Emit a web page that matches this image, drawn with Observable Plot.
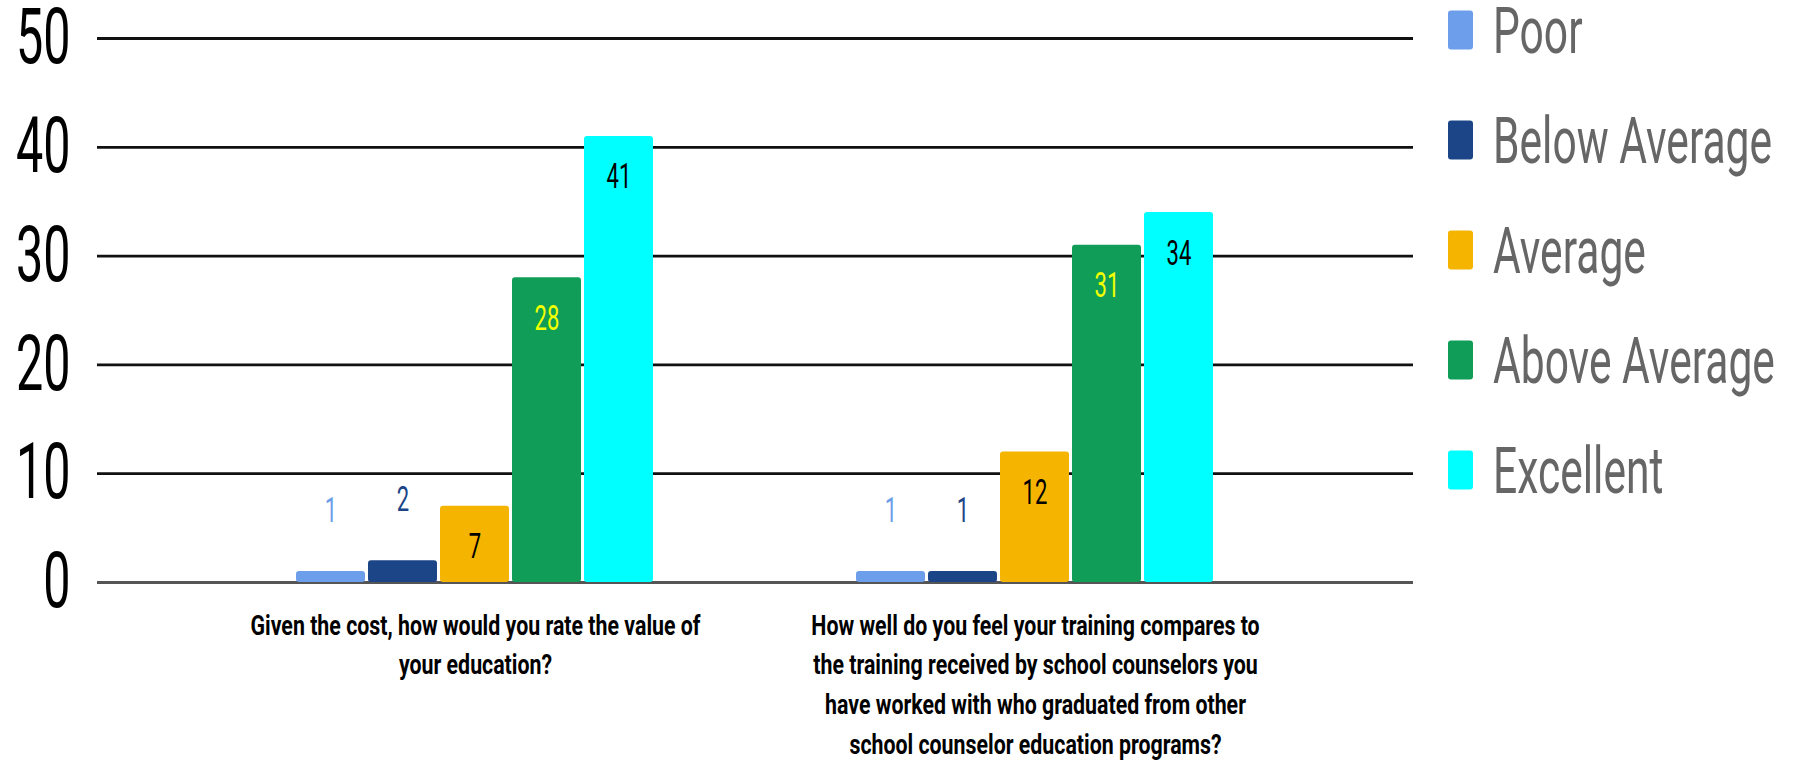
<!DOCTYPE html>
<html>
<head>
<meta charset="utf-8">
<script src="https://cdn.jsdelivr.net/npm/d3@7"></script>
<script src="https://cdn.jsdelivr.net/npm/@observablehq/plot@0.6"></script>
<style>
  html, body { margin: 0; padding: 0; background: #fff; }
  #wrap { position: relative; width: 1798px; height: 762px; overflow: hidden; font-family: Roboto, sans-serif; background: #fff; }
  #wrap svg { position: absolute; left: 0; top: 0; }
</style>
</head>
<body>
<div id="wrap"></div>
<script>
// ---- data ----
const questions = [
  "Given the cost, how would you rate the value of your education?",
  "How well do you feel your training compares to the training received by school counselors you have worked with who graduated from other school counselor education programs?"
];
const questionTickLabels = [
  "Given the cost, how would you rate the value of\nyour education?",
  "How well do you feel your training compares to\nthe training received by school counselors you\nhave worked with who graduated from other\nschool counselor education programs?"
];
const ratings = ["Poor", "Below Average", "Average", "Above Average", "Excellent"];
const valuesQ1 = [1, 2, 7, 28, 41];
const valuesQ2 = [1, 1, 12, 31, 34];
const yTicks = [0, 10, 20, 30, 40, 50];
const colors = ["#6d9eeb", "#1c4587", "#f4b400", "#0f9d58", "#00ffff"];

const data = [];
[valuesQ1, valuesQ2].forEach((vals, qi) =>
  vals.forEach((v, ri) => data.push({question: questions[qi], rating: ratings[ri], value: v}))
);

const W = 1798, H = 762;
const tickLabelOf = q => questionTickLabels[questions.indexOf(q)];
const inside = d => d.value >= 5;

const frame = {
  width: W, height: H,
  marginLeft: 97, marginRight: 385, marginTop: 38, marginBottom: 180,
  style: {fontFamily: "Roboto, sans-serif", background: "transparent", overflow: "visible"}
};

// background: gridlines and y tick labels across the full frame
const grid = Plot.plot({
  ...frame,
  y: {domain: [0, 50], axis: null, label: null},
  marks: [
    Plot.ruleY(yTicks.filter(t => t > 0), {stroke: "#111", strokeWidth: 2.8}),
    Plot.ruleY([0], {stroke: "#555", strokeWidth: 3}),
    Plot.text(yTicks, {y: d => d, text: d => String(d), frameAnchor: "left", dx: -27,
      textAnchor: "end", lineAnchor: "middle", fontSize: 77, fill: "#000"})
  ]
});

// foreground: grouped bars, value labels and category labels
const bars = Plot.plot({
  ...frame,
  fx: {domain: questions, range: [294, 1216], paddingInner: 0.354, paddingOuter: 0, axis: null, label: null},
  x: {domain: ratings, paddingInner: 0.04, paddingOuter: 0, axis: null, label: null},
  y: {domain: [0, 50], axis: null, label: null},
  color: {domain: ratings, range: colors},
  marks: [
    Plot.barY(data, {fx: "question", x: "rating", y: "value", fill: "rating", rx: 3}),
    Plot.text(data.filter(d => inside(d) && d.rating !== "Above Average"), {fx: "question", x: "rating", y: "value",
      text: d => String(d.value), fontSize: 35, lineAnchor: "bottom", dy: 52, fill: "#000"}),
    Plot.text(data.filter(d => inside(d) && d.rating === "Above Average"), {fx: "question", x: "rating", y: "value",
      text: d => String(d.value), fontSize: 35, lineAnchor: "bottom", dy: 52, fill: "#f2ff00"}),
    Plot.text(data.filter(d => !inside(d)), {fx: "question", x: "rating", y: "value",
      text: d => String(d.value), fontSize: 35, lineAnchor: "bottom", dy: -50, fill: "rating"}),
    Plot.axisFx({anchor: "bottom", tickSize: 0, tickPadding: 24, fontSize: 27, fontWeight: "bold",
      lineHeight: 1.47, fill: "#000", label: null, tickFormat: tickLabelOf})
  ]
});

const wrap = document.getElementById("wrap");
wrap.appendChild(grid);
wrap.appendChild(bars);

// ---- legend (right side, vertical) ----
const ly = d3.scalePoint(ratings, [30, 470]);
const legend = d3.select(wrap).append("svg")
  .attr("width", W).attr("height", H)
  .style("font-family", "Roboto, sans-serif");
const item = legend.selectAll("g").data(ratings).join("g");
item.append("rect")
  .attr("x", 1448).attr("y", d => ly(d) - 19.5)
  .attr("width", 25).attr("height", 39).attr("rx", 3)
  .attr("fill", (d, i) => colors[i]);
item.append("text")
  .attr("x", 1493).attr("y", d => ly(d) + 23)
  .attr("font-size", 64).attr("fill", "#666")
  .text(d => d);

// ---- condense text horizontally, like the reference ----
function squeeze(texts, k) {
  texts.forEach(t => {
    const tspans = t.querySelectorAll("tspan");
    const targets = tspans.length ? Array.from(tspans) : [t];
    targets.forEach(el => {
      const len = el.getComputedTextLength();
      if (len > 0) {
        el.setAttribute("textLength", (len * k).toFixed(2));
        el.setAttribute("lengthAdjust", "spacingAndGlyphs");
      }
    });
  });
}
const axisTexts = Array.from(bars.querySelectorAll('g[aria-label="fx-axis tick label"] text'));
const otherBarTexts = Array.from(bars.querySelectorAll("text")).filter(t => !axisTexts.includes(t));
squeeze(Array.from(grid.querySelectorAll("text")), 0.63);
squeeze(otherBarTexts, 0.63);
squeeze(axisTexts, 0.79);
squeeze(Array.from(legend.node().querySelectorAll("text")), 0.665);
</script>
</body>
</html>
